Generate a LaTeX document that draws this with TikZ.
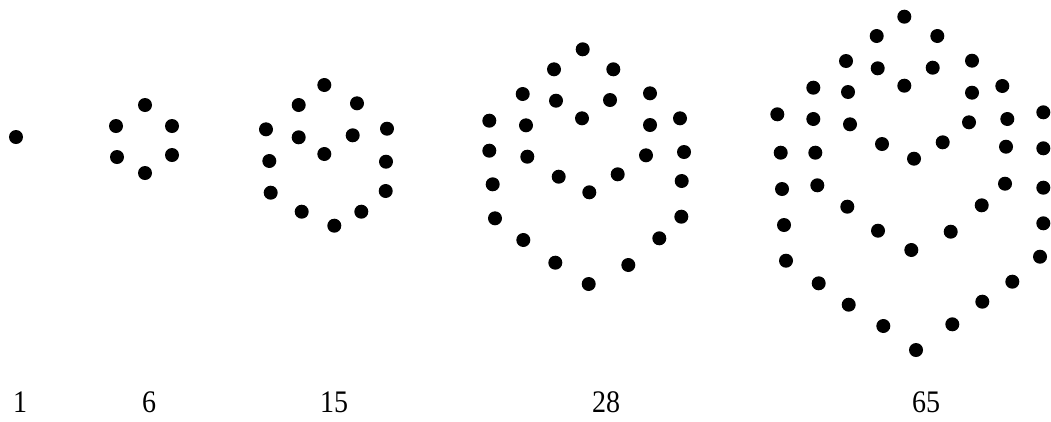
\documentclass[tikz,border=0pt]{standalone}
\usepackage{fontspec}
\usepackage{graphicx}
\setmainfont{Liberation Serif}
\begin{document}
\begin{tikzpicture}[x=1pt,y=-1pt,
  dot/.style={circle,fill=black,inner sep=0pt,minimum size=14pt},
  lbl/.style={anchor=base,inner sep=0pt,font=\fontsize{28}{30}\selectfont}]
\useasboundingbox (0,0) rectangle (1051,421);
% figure 1
\node[dot] (a1) at (16,137) {};
% figure 2
\foreach \x/\y [count=\i] in {145/105,116/126,172/126,117/157,172/155,145/173}
  \node[dot] (b\i) at (\x,\y) {};
% figure 3
\foreach \x/\y [count=\i] in {324.3/85,298.7/105,357/103.3,266/129.3,298.7/137.3,352.7/135.3,387/128.7,324.3/154,269.3/161,386/161.7,270.7/192.7,385.7/191,301.7/211.7,361.3/211.7,334.3/225.7}
  \node[dot] (c\i) at (\x,\y) {};
% figure 4
\foreach \x/\y [count=\i] in {582.7/49.3,554/69.3,613.3/69.3,522.7/94,556/100.7,610/100,650/93.3,489.3/120.7,526/125.3,582/118.3,650/125,680/118.3,489.3/150.7,527.3/156.7,646/155.3,684/152,558.7/176.7,617.7/174.3,492.7/184.3,589.3/192.3,681.7/181,495/218.3,681.3/216.7,523.3/240,659.3/238.3,555.3/262.7,628.3/265,588.7/284}
  \node[dot] (d\i) at (\x,\y) {};
% figure 5
\foreach \x/\y [count=\i] in {904.3/16.7,876.7/36,937.3/36,846/61,877.7/68.3,932.7/67.7,972/60.7,813.3/87.7,848/92,904.3/85.7,972/92.7,1002.3/86,777.3/114.3,813.3/119,850/124.3,969/122.3,1007.3/119,1043.3/112.3,882/144,942.7/142.3,914/158.7,780.7/152.7,815.3/152.7,1006/146.7,1043.3/148.3,782/189,817.3/185.3,1005/183.7,1043.3/187.7,847.3/206.7,981.7/205.3,784/225,878/230.7,950.7/231.7,1043.3/223.3,911.3/250,786/260.7,1040/256.7,818.7/283.3,1012.3/281.7,848.7/304.7,982.3/301.7,883.3/326,952.3/324.3,916/350}
  \node[dot] (e\i) at (\x,\y) {};
% labels
\node[lbl] (l1) at (20,412) {\scalebox{1}[1.12]{1}};
\node[lbl] (l2) at (149,412) {\scalebox{1}[1.12]{6}};
\node[lbl] (l3) at (334,412) {\scalebox{1}[1.12]{15}};
\node[lbl] (l4) at (606,412) {\scalebox{1}[1.12]{28}};
\node[lbl] (l5) at (926,412) {\scalebox{1}[1.12]{65}};
\end{tikzpicture}
\end{document}
